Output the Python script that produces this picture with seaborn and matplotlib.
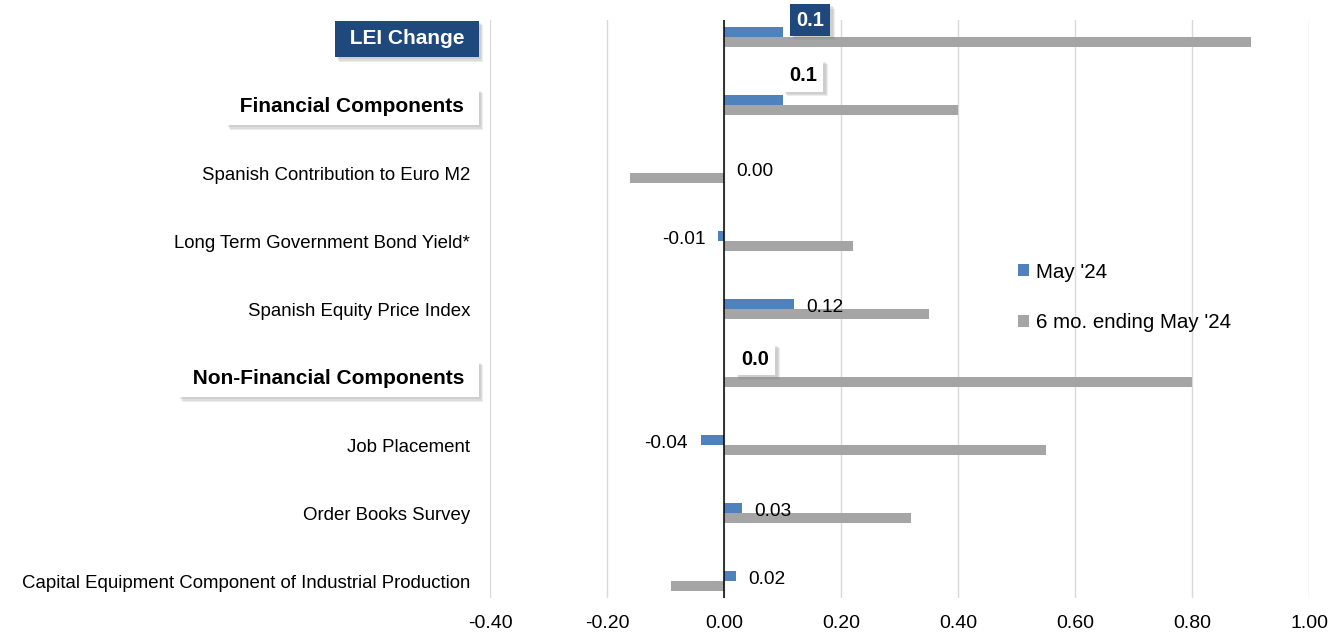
import matplotlib
matplotlib.use("Agg")
import matplotlib.pyplot as plt
import matplotlib.patheffects as pe
import seaborn as sns
import pandas as pd
import numpy as np

categories = ["LEI Change", "Financial Components", "Spanish Contribution to Euro M2",
              "Long Term Government Bond Yield*", "Spanish Equity Price Index",
              "Non-Financial Components", "Job Placement", "Order Books Survey",
              "Capital Equipment Component of Industrial Production"]
may24 = [0.10, 0.10, 0.00, -0.01, 0.12, 0.00, -0.04, 0.03, 0.02]
six_mo = [0.90, 0.40, -0.16, 0.22, 0.35, 0.80, 0.55, 0.32, -0.09]
series_names = ["May '24", "6 mo. ending May '24"]
label_text = ["0.1", "0.1", "0.00", "-0.01", "0.12", "0.0", "-0.04", "0.03", "0.02"]
headings = {"LEI Change": "dark", "Financial Components": "light", "Non-Financial Components": "light"}
xticks = [-0.4, -0.2, 0.0, 0.2, 0.4, 0.6, 0.8, 1.0]

BLUE = "#4F81BD"
GRAY = "#A5A5A5"
NAVY = "#1F497D"

df = pd.DataFrame({
    "category": categories * 2,
    "value": may24 + six_mo,
    "series": [series_names[0]] * len(categories) + [series_names[1]] * len(categories),
})

sns.set_theme(style="white")
plt.rcParams["font.family"] = ["Liberation Sans", "DejaVu Sans"]
plt.rcParams["text.color"] = "black"
plt.rcParams["xtick.color"] = "black"
plt.rcParams["ytick.color"] = "black"

fig = plt.figure(figsize=(13.4, 6.32), dpi=100)
ax = fig.add_axes([490/1340, 1-598/632, (1309-490)/1340, (598-20)/632])

sns.barplot(data=df, y="category", x="value", hue="series", orient="h",
            order=categories, hue_order=series_names, palette=[BLUE, GRAY],
            width=0.3, dodge=True, saturation=1, ax=ax, edgecolor="none", linewidth=0)

ax.set_xlim(-0.4, 1.0)
ax.set_ylim(8.25, -0.25)
ax.set_xticks(xticks)
ax.set_xticklabels([f"{v:.2f}" for v in xticks], fontsize=14, color="black")
ax.tick_params(axis="x", length=0, pad=12)
ax.tick_params(axis="y", length=0, pad=14.4)
ax.set_xlabel("")
ax.set_ylabel("")
for s in ax.spines.values():
    s.set_visible(False)
ax.grid(axis="x", color="#D9D9D9", linewidth=1)
ax.set_axisbelow(True)
ax.axvline(0, color="black", linewidth=1.1, zorder=5)

shadow = [pe.withSimplePatchShadow(offset=(o, -o), shadow_rgbFace="#7f7f7f", alpha=0.14)
          for o in (3.2, 2.4, 1.6)]

ylabels = []
for lab in ax.get_yticklabels():
    t = lab.get_text()
    ylabels.append(f" {t} " if t in headings else t)
ax.set_yticks(range(len(categories)))
ax.set_yticklabels(ylabels)
for lab in ax.get_yticklabels():
    t = lab.get_text().strip()
    lab.set_fontsize(13.4)
    lab.set_color("black")
    if t in headings:
        lab.set_fontsize(15)
        lab.set_fontweight("bold")
        if headings[t] == "dark":
            lab.set_color("white")
            fc = NAVY
        else:
            fc = "white"
        lab.set_bbox(dict(boxstyle="square,pad=0.42", fc=fc, ec="none"))
        lab.get_bbox_patch().set_path_effects(shadow + [pe.Normal()])

# value labels for May '24
for i, (cat, v, txt) in enumerate(zip(categories, may24, label_text)):
    if cat in headings:
        continue
    yb = i - 0.02
    if v < 0:
        ax.annotate(txt, (v, yb), xytext=(-9, 0), textcoords="offset points",
                    ha="right", va="center", fontsize=13.8, color="black")
    else:
        ax.annotate(txt, (v, yb), xytext=(9, 0), textcoords="offset points",
                    ha="left", va="center", fontsize=13.8, color="black")

# heading value labels (moved boxes)
box_pos = {0: (0.147, -0.25, NAVY, "white"), 1: (0.135, 0.57, "white", "black"),
           5: (0.053, 4.74, "white", "black")}
for i, (x, y, fc, tc) in box_pos.items():
    t = ax.text(x, y, label_text[i], ha="center", va="center", fontsize=14.5,
                fontweight="bold", color=tc, zorder=6,
                bbox=dict(boxstyle="square,pad=0.32", fc=fc, ec="none"))
    t.get_bbox_patch().set_path_effects(shadow + [pe.Normal()])

leg = ax.legend(loc="upper left", bbox_to_anchor=((1000-490)/819, (598-244)/578),
                frameon=False, fontsize=14.8, handlelength=0.5, handleheight=0.5,
                handletextpad=0.35, labelspacing=1.55)
for txt in leg.get_texts():
    txt.set_color("black")

fig.savefig("out.png", dpi=100)
